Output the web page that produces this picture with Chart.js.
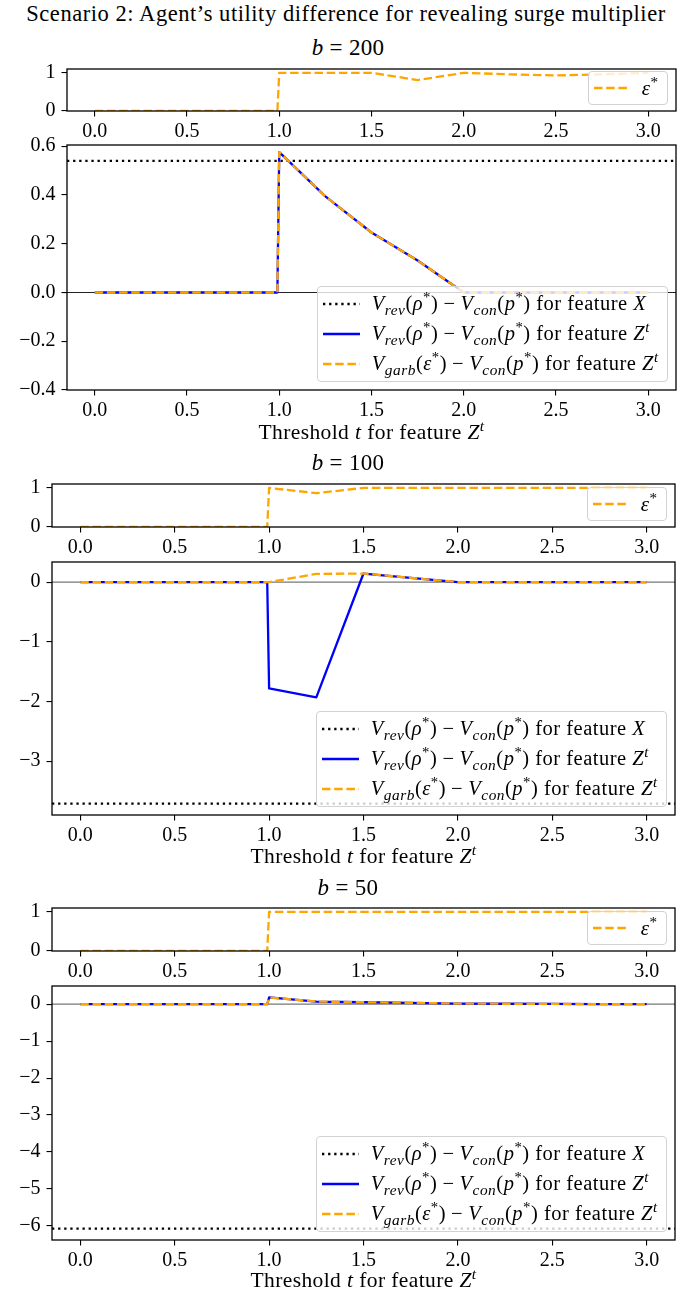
<!DOCTYPE html>
<html>
<head>
<meta charset="utf-8">
<script src="https://cdn.jsdelivr.net/npm/chart.js@4.4.1/dist/chart.umd.min.js"></script>
<style>
  body { margin: 0; width: 677px; height: 1297px; background: #fff; position: relative; overflow: hidden;
         font-family: "Liberation Serif", "DejaVu Serif", serif; color: #000; }
  canvas { position: absolute; left: 0; }
  .txt { position: absolute; white-space: nowrap; transform: translate(-50%, -50%); line-height: 1; }
  .legend { position: absolute; background: rgba(255,255,255,0.8); border: 1px solid #d2d2d2; border-radius: 4px;
            box-sizing: border-box; padding: 2px 8px 2px 5px; letter-spacing: 0.5px; }
  .row { display: flex; align-items: center; white-space: nowrap; }
  .row svg { flex: none; margin-right: 12px; }
  .op { margin: 0 0.25em; }
  sub { font-size: 75%; vertical-align: -0.3em; line-height: 0; }
  sup { font-size: 72%; vertical-align: 0.55em; line-height: 0; }
</style>
</head>
<body>
<script>
// thresholds t (x values shared by all panels)
const thresholds = [0, 0.25, 0.5, 0.75, 0.99, 1.0, 1.25, 1.5, 1.75, 2.0, 2.25, 2.5, 2.75, 3.0];
const xTicks = [0, 0.5, 1, 1.5, 2, 2.5, 3];
const xLimits = [-0.15, 3.15];

// b = 200
const eps200   = [0, 0, 0, 0, 0, 1, 1, 1, 0.81, 1, 0.96, 0.93, 0.96, 1];
const revZ200  = [0, 0, 0, 0, 0, 0.576, 0.394, 0.246, 0.131, 0.0, 0, 0, 0, 0];
const garbZ200 = [0, 0, 0, 0, 0, 0.576, 0.394, 0.246, 0.131, 0.0, 0, 0, 0, 0];
const revX200  = 0.54;
const yTicks200 = [-0.4, -0.2, 0, 0.2, 0.4, 0.6];
const yLimits200 = [-0.4, 0.605];

// b = 100
const eps100   = [0, 0, 0, 0, 0, 1, 0.866, 1, 1, 1, 1, 1, 1, 1];
const revZ100  = [0, 0, 0, 0, 0, -1.78, -1.93, 0.143, 0.07, 0, 0, 0, 0, 0];
const garbZ100 = [0, 0, 0, 0, 0, 0, 0.137, 0.143, 0.07, 0, 0, 0, 0, 0];
const revX100  = -3.71;
const yTicks100 = [-3, -2, -1, 0];
const yLimits100 = [-3.9, 0.336];

// b = 50
const eps50   = [0, 0, 0, 0, 0, 1, 1, 1, 1, 1, 1, 1, 1, 1];
const revZ50  = [0, 0, 0, 0, 0, 0.18, 0.07, 0.05, 0.035, 0.015, 0.01, 0.005, 0, 0];
const garbZ50 = [0, 0, 0, 0, 0, 0.18, 0.07, 0.05, 0.035, 0.015, 0.01, 0.005, 0, 0];
const revX50  = -6.07;
const yTicks50 = [-6, -5, -4, -3, -2, -1, 0];
const yLimits50 = [-6.38, 0.49];

// eps* small plots
const epsTicks = [0, 1];
const epsLimits = [0, 1.1];

const suptitle = 'Scenario 2: Agent\u2019s utility difference for revealing surge multiplier';
const xLabel = 'Threshold <i>t</i> for feature <i>Z</i><sup><i>t</i></sup>';
const MINUS = '<span class="op">\u2212</span>';
const legendLabels = [
  `<i>V</i><sub><i>rev</i></sub>(<i>\u03c1</i><sup>*</sup>)${MINUS}<i>V</i><sub><i>con</i></sub>(<i>p</i><sup>*</sup>) for feature <i>X</i>`,
  `<i>V</i><sub><i>rev</i></sub>(<i>\u03c1</i><sup>*</sup>)${MINUS}<i>V</i><sub><i>con</i></sub>(<i>p</i><sup>*</sup>) for feature <i>Z</i><sup><i>t</i></sup>`,
  `<i>V</i><sub><i>garb</i></sub>(<i>\u03b5</i><sup>*</sup>)${MINUS}<i>V</i><sub><i>con</i></sub>(<i>p</i><sup>*</sup>) for feature <i>Z</i><sup><i>t</i></sup>`
];
const epsLabel = '<i>\u03b5</i><sup>*</sup>';

const BLUE = '#0000ff', ORANGE = '#ffa500';
const DASH = [8.5, 3.7], DOT = [2.3, 3.8];

const panels = [
  { b: 200, left: 67, right: 676, small: [65, 111], big: [141, 390], title: 47, xlab: 433,
    eps: eps200, rev: revZ200, garb: garbZ200, revX: revX200, yTicks: yTicks200, yLim: yLimits200, dec: 1, zero: '#222' },
  { b: 100, left: 52, right: 675, small: [480, 527], big: [558, 815], title: 462, xlab: 857,
    eps: eps100, rev: revZ100, garb: garbZ100, revX: revX100, yTicks: yTicks100, yLim: yLimits100, dec: 0, zero: '#777' },
  { b: 50, left: 52, right: 675, small: [904, 951], big: [982, 1240], title: 887, xlab: 1281,
    eps: eps50, rev: revZ50, garb: garbZ50, revX: revX50, yTicks: yTicks50, yLim: yLimits50, dec: 0, zero: '#777' }
];

// frame on all four sides + optional zero line
const frame = {
  id: 'frame',
  beforeDatasetsDraw(chart, args, opts) {
    if (!opts.zero) return;
    const { ctx, chartArea: a, scales } = chart;
    const py = scales.y.getPixelForValue(0);
    ctx.save();
    ctx.strokeStyle = opts.zero;
    ctx.lineWidth = 1.2;
    ctx.beginPath(); ctx.moveTo(a.left, py); ctx.lineTo(a.right, py); ctx.stroke();
    ctx.restore();
  },
  afterDatasetsDraw(chart) {
    const { ctx, chartArea: a } = chart;
    ctx.save();
    ctx.strokeStyle = '#000';
    ctx.lineWidth = 1.3;
    ctx.strokeRect(a.left, a.top, a.right - a.left, a.bottom - a.top);
    ctx.restore();
  }
};
Chart.register(frame);

const fmt = (v, d) => (v < -1e-9 ? '\u2212' : '') + Math.abs(v).toFixed(d);
const pts = ys => thresholds.map((t, i) => ({ x: t, y: ys[i] }));

function addText(html, cx, cy, size, spacing) {
  const el = document.createElement('div');
  el.className = 'txt';
  el.style.left = cx + 'px';
  el.style.top = cy + 'px';
  el.style.fontSize = size + 'px';
  el.style.letterSpacing = (spacing || 0) + 'px';
  el.innerHTML = html;
  document.body.appendChild(el);
}

function sample(style, w) {
  const dash = style === 'dot' ? DOT.join(' ') : style === 'dash' ? DASH.join(' ') : 'none';
  const col = style === 'dot' ? '#000' : style === 'solid' ? BLUE : ORANGE;
  return `<svg width="${w}" height="6"><line x1="0" y1="3" x2="${w}" y2="3" stroke="${col}" stroke-width="2.3" stroke-dasharray="${dash}"/></svg>`;
}

function addLegend(rows, right, bottom, size, rowH, w, gap) {
  const el = document.createElement('div');
  el.className = 'legend';
  el.style.right = right + 'px';
  el.style.bottom = bottom + 'px';
  el.style.fontSize = size + 'px';
  el.innerHTML = rows.map(r => `<div class="row" style="height:${rowH}px">${sample(r[0], w)}<span style="margin-left:${gap - 12}px">${r[1]}</span></div>`).join('');
  document.body.appendChild(el);
}

function makeChart(top, bottom, p, datasets, yTicks, yLim, dec, zero) {
  const padTop = 14, padBottom = 36;
  const c = document.createElement('canvas');
  const h = padTop + (bottom - top) + padBottom;
  c.width = 677; c.height = h;
  c.style.top = (top - padTop) + 'px';
  document.body.appendChild(c);
  const tickFont = { family: 'Liberation Serif', size: 20 };
  new Chart(c, {
    type: 'line',
    data: { datasets },
    options: {
      responsive: false,
      animation: false,
      events: [],
      layout: { autoPadding: false, padding: { top: padTop, right: 677 - p.right, left: 0, bottom: 0 } },
      plugins: { legend: { display: false }, tooltip: { enabled: false }, frame: { zero } },
      scales: {
        x: {
          type: 'linear', min: xLimits[0], max: xLimits[1],
          afterBuildTicks: s => { s.ticks = xTicks.map(v => ({ value: v })); },
          afterFit: s => { s.height = padBottom; },
          ticks: { callback: v => v.toFixed(1), color: '#000', font: tickFont, padding: 3, maxRotation: 0, autoSkip: false },
          grid: { drawOnChartArea: false, drawTicks: true, tickLength: 5.5, color: '#000', lineWidth: 1.1 },
          border: { display: false }
        },
        y: {
          type: 'linear', min: yLim[0], max: yLim[1],
          afterBuildTicks: s => { s.ticks = yTicks.map(v => ({ value: v })); },
          afterFit: s => { s.width = p.left; },
          ticks: { callback: v => fmt(v, dec), color: '#000', font: tickFont, padding: 6, autoSkip: false },
          grid: { drawOnChartArea: false, drawTicks: true, tickLength: 5.5, color: '#000', lineWidth: 1.1 },
          border: { display: false }
        }
      }
    }
  });
}

const line = (data, color, dash, order) => ({
  data, borderColor: color, borderWidth: 2.3, borderDash: dash, pointRadius: 0,
  borderJoinStyle: 'round', tension: 0, order, fill: false
});

addText(suptitle, 346, 14, 22.5, 0.55);

panels.forEach(p => {
  addText(`<i>b</i> = ${p.b}`, 348, p.title, 23, 0.3);

  // eps* strip
  makeChart(p.small[0], p.small[1], p, [line(pts(p.eps), ORANGE, DASH, 1)], epsTicks, epsLimits, 0, null);
  addLegend([['dash', epsLabel]], 677 - p.right + 8.5, 1297 - p.small[1] + 6, 21, 28, 34, 14);

  // utility differences
  const xLine = xLimits.map(x => ({ x, y: p.revX }));
  makeChart(p.big[0], p.big[1], p, [
    line(xLine, '#000', DOT, 3),
    line(pts(p.rev), BLUE, [], 2),
    line(pts(p.garb), ORANGE, DASH, 1)
  ], p.yTicks, p.yLim, p.dec, p.zero);
  addLegend([['dot', legendLabels[0]], ['solid', legendLabels[1]], ['dash', legendLabels[2]]],
            677 - p.right + 8.5, 1297 - p.big[1] + 8.5, 20.5, 30, 37, 12);

  addText(xLabel, (p.left + p.right) / 2, p.xlab, 21.5, 0.4);
});
</script>
</body>
</html>
